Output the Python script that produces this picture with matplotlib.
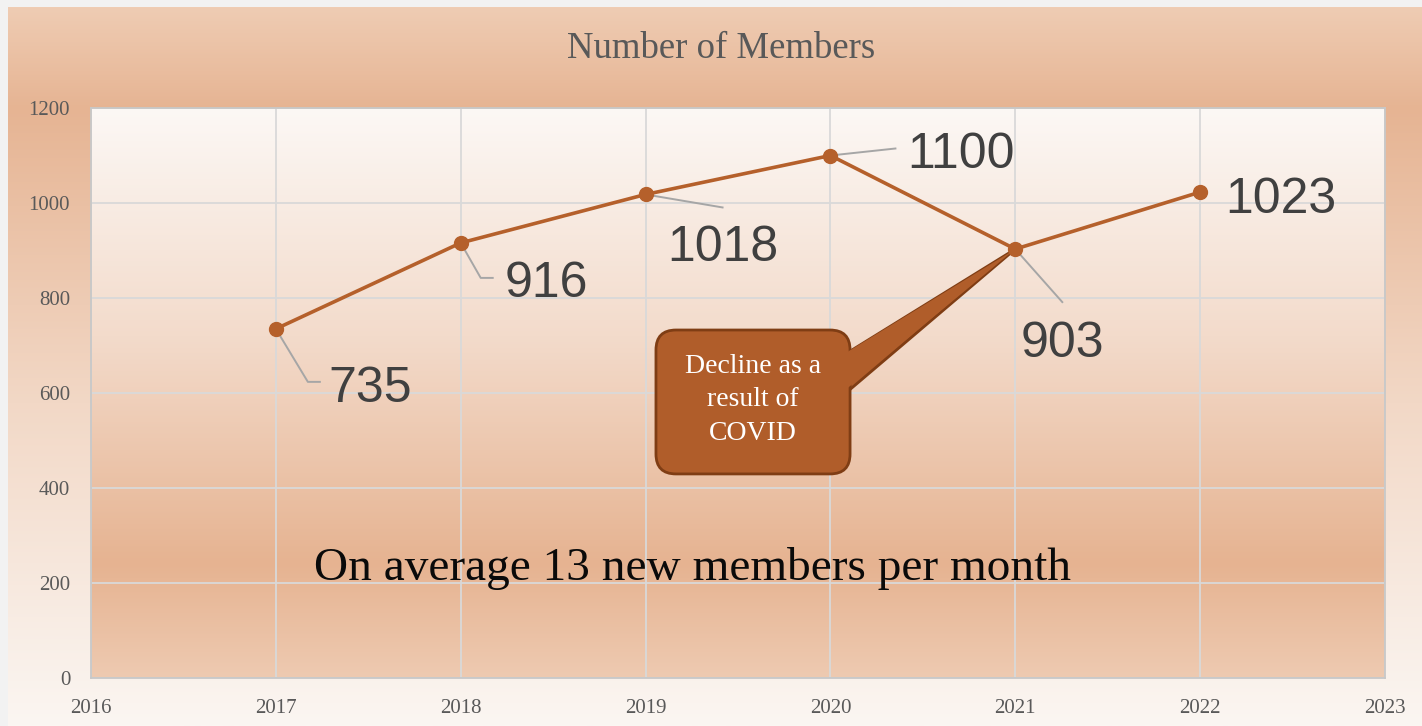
import matplotlib
matplotlib.use('Agg')
import matplotlib.pyplot as plt
import numpy as np
from matplotlib.colors import LinearSegmentedColormap
from matplotlib.patches import FancyBboxPatch, Polygon
from matplotlib.transforms import IdentityTransform

# ---------------- data ----------------
years = [2017, 2018, 2019, 2020, 2021, 2022]
members = [735, 916, 1018, 1100, 903, 1023]
x_ticks = [2016, 2017, 2018, 2019, 2020, 2021, 2022, 2023]
y_ticks = [0, 200, 400, 600, 800, 1000, 1200]
title = "Number of Members"
callout_text = "Decline as a\nresult of\nCOVID"
callout_year = 2021
note_text = "On average 13 new members per month"

# ---------------- style / layout ----------------
W, H = 1422, 726
SERIF = ['Liberation Serif', 'DejaVu Serif']
SANS = ['Liberation Sans', 'DejaVu Sans']
LINE_C = '#B5602B'
TICK_C = '#595959'
LEADER_C = '#A6A6A6'
LABEL_C = '#404040'

# label layout in pixels relative to each point: (leader vertices, text anchor, ha)
label_layout = [
    ([(32, -53), (44, -53)], (53, -73), 'left'),
    ([(20, -35), (32, -35)], (44, -54), 'left'),
    ([(77, -13)], (77, -67), 'center'),
    ([(65, 7)], (77, -13), 'left'),
    ([(47, -53)], (47, -108), 'center'),
    ([], (25, -21), 'left'),
]

fig = plt.figure(figsize=(W / 100, H / 100), dpi=100)
fig.patch.set_facecolor('#F2F2F2')

# background panel
bg = fig.add_axes([0, 0, 1, 1])
bg.set_axis_off()
grad = np.linspace(0, 1, 256).reshape(-1, 1)
cmap_panel = LinearSegmentedColormap.from_list(
    'panel', [(0, '#EFCCB3'), (0.14, '#E6B493'), (0.55, '#F2D8C6'), (1, '#FBF6F2')])
bg.imshow(grad, cmap=cmap_panel, extent=[8, W, H, 7], aspect='auto', origin='upper')
bg.set_xlim(0, W)
bg.set_ylim(H, 0)

# main axes
ax = fig.add_axes([91 / W, 1 - 678 / H, (1385 - 91) / W, (678 - 108) / H])
ax.set_autoscale_on(False)
ax.set_xlim(x_ticks[0], x_ticks[-1])
ax.set_ylim(y_ticks[0], y_ticks[-1])
cmap_plot = LinearSegmentedColormap.from_list(
    'plot', [(0, '#FCF8F5'), (0.4, '#F3DBCB'), (0.8, '#E6B391'), (1, '#EECAB1')])
ax.imshow(grad, cmap=cmap_plot, extent=[0, 1, 0, 1], transform=ax.transAxes,
          aspect='auto', origin='upper', zorder=0)
ax.set_xlim(x_ticks[0], x_ticks[-1])
ax.set_ylim(y_ticks[0], y_ticks[-1])
ax.set_xticks(x_ticks)
ax.set_yticks(y_ticks)
ax.set_axisbelow(True)
ax.grid(True, color='#D9D9D9', lw=1.3)
for s in ax.spines.values():
    s.set_color('#C8C8C8')
    s.set_linewidth(1.3)
ax.tick_params(axis='both', length=0, labelsize=15, labelcolor=TICK_C)
ax.tick_params(axis='x', pad=15)
ax.tick_params(axis='y', pad=15)
for lab in ax.get_xticklabels() + ax.get_yticklabels():
    lab.set_fontfamily(SERIF)

# series
ax.plot(years, members, color=LINE_C, lw=2.6, marker='o', ms=10,
        markerfacecolor=LINE_C, markeredgecolor=LINE_C, zorder=7, clip_on=False)

# data labels with leader lines
for yr, val, (leader, txt_off, ha) in zip(years, members, label_layout):
    px, py = ax.transData.transform((yr, val))
    if leader:
        xs = [px] + [px + dx for dx, dy in leader]
        ys = [py] + [py + dy for dx, dy in leader]
        ax.plot(xs, ys, color=LEADER_C, lw=1.4, transform=IdentityTransform(),
                clip_on=False, zorder=6)
    ax.text(px + txt_off[0], py + txt_off[1], str(val), transform=IdentityTransform(),
            ha=ha, va='baseline', fontsize=36, color=LABEL_C, family=SANS, zorder=8)

# callout
bx0, by0 = ax.transAxes.transform((0.4366, 0.358))
bx1, by1 = ax.transAxes.transform((0.5866, 0.6105))
tipx, tipy = ax.transData.transform((callout_year, members[years.index(callout_year)]))
base_top = H - 353
base_bot = H - 392
FILL = '#B05D2A'
EDGE = '#7F3D14'
wedge = Polygon([(bx1 - 3, base_top), (tipx, tipy), (bx1 - 3, base_bot)], closed=True,
                facecolor=FILL, edgecolor=EDGE, lw=2, transform=IdentityTransform(),
                zorder=4, joinstyle='miter')
ax.add_artist(wedge)
box = FancyBboxPatch((bx0, by0), bx1 - bx0, by1 - by0,
                     boxstyle='round,pad=0,rounding_size=20',
                     facecolor=FILL, edgecolor=EDGE, lw=2,
                     transform=IdentityTransform(), zorder=5)
ax.add_artist(box)
cover = Polygon([(bx1 - 6, base_top - 1), (tipx, tipy), (bx1 - 6, base_bot + 1)], closed=True,
                facecolor=FILL, edgecolor='none', transform=IdentityTransform(), zorder=5.5)
ax.add_artist(cover)
ax.text((bx0 + bx1) / 2, (by0 + by1) / 2 + 2, callout_text, transform=IdentityTransform(),
        ha='center', va='center', ma='center', fontsize=20, color='white',
        family=SERIF, linespacing=1.45, zorder=6)

# note
ax.text(0.4652, 0.172, note_text, transform=ax.transAxes, ha='center', va='baseline',
        fontsize=34, color='#0A0A0A', family=SERIF, zorder=6)

# title
fig.text(721 / W, 1 - 49 / H, title, ha='center', va='center', fontsize=26.5,
         color=TICK_C, family=SERIF)

fig.savefig('out.png', dpi=100, facecolor=fig.get_facecolor())
